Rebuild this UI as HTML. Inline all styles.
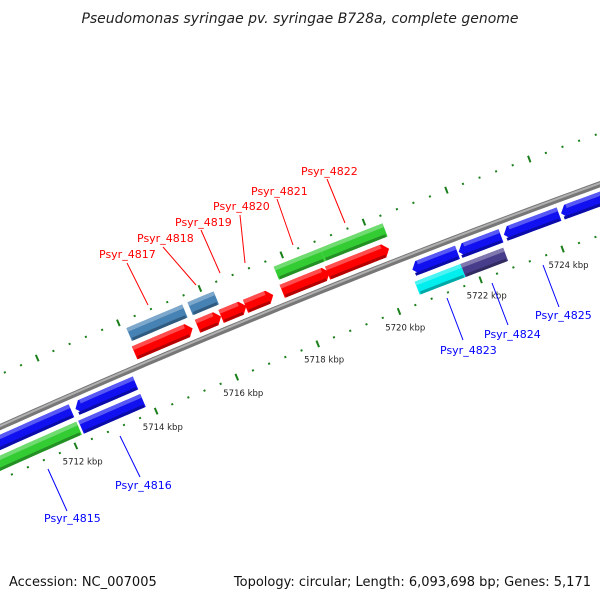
<!DOCTYPE html>
<html><head><meta charset="utf-8"><style>
html,body{margin:0;padding:0;background:#fff;}
svg{display:block;font-family:"DejaVu Sans","Liberation Sans",sans-serif;}
</style></head><body>
<svg id="map" width="600" height="600" viewBox="0 0 600 600" xmlns="http://www.w3.org/2000/svg">
<rect width="600" height="600" fill="#fff"/>
<text x="300" y="23" text-anchor="middle" font-size="14" font-style="italic" fill="#222">Pseudomonas syringae pv. syringae B728a, complete genome</text>
<g id="ticks"></g>
<g id="backbone"></g>
<g id="features"></g>
<g id="labels"></g>
<text x="9" y="586" font-size="13" fill="#111">Accession: NC_007005</text>
<text x="591" y="586" text-anchor="end" font-size="13" fill="#111">Topology: circular; Length: 6,093,698 bp; Genes: 5,171</text>
</svg>
<script>
// data (kbp positions)
const featStart = [5714.12,5715.62,5717.73,5718.86, 5714.07,5715.62,5716.2,5716.8,5717.7,5718.81, 5708.5,5712.33,5720.63,5721.76,5722.86,5724.25, 5708.5,5712.28,5720.58,5721.7];
const featEnd   = [5715.49,5716.26,5718.86,5720.38, 5715.5,5716.2,5716.82,5717.48,5718.86,5720.31, 5712.23,5713.82,5721.73,5722.79,5724.2,5727.0, 5712.23,5713.82,5721.7,5722.74];
const featSlot  = [2,2,2,2, 1,1,1,1,1,1, -1,-1,-1,-1,-1,-1, -2,-2,-2,-2];
const featColor = ["#4682b4","#4682b4","#33cc33","#33cc33","#ff0000","#ff0000","#ff0000","#ff0000","#ff0000","#ff0000","#1010f0","#1010f0","#1010f0","#1010f0","#1010f0","#1010f0","#33cc33","#1010f0","#00eeee","#483d8b"];
const featArrow = [0,0,0,0, 1,1,1,1,1,1, -1,-1,-1,-1,-1,-1, 0,0,0,0];
const tickLabels = [5712,5714,5716,5718,5720,5722,5724];

const NS="http://www.w3.org/2000/svg";
const R=8830, CX=3611, CY=8485, A0=Math.atan2(300-CY,300-CX), PXK=44, REF=5718;
function pt(bp,d){const a=A0+(bp-REF)*PXK/R;const r=R+d;return [CX+r*Math.cos(a),CY+r*Math.sin(a)];}
function arcPts(b1,b2,d){const out=[];const n=Math.max(2,Math.ceil(Math.abs(b2-b1)*4));for(let i=0;i<=n;i++){out.push(pt(b1+(b2-b1)*i/n,d));}return out;}
function ps(a){return a.map(p=>p[0].toFixed(2)+","+p[1].toFixed(2)).join(" ");}
function shade(hex,f){const n=parseInt(hex.slice(1),16);let r=n>>16,g=(n>>8)&255,b=n&255;
 if(f>0){r+= (255-r)*f;g+=(255-g)*f;b+=(255-b)*f;}else{r*=1+f;g*=1+f;b*=1+f;}
 return "rgb("+Math.round(r)+","+Math.round(g)+","+Math.round(b)+")";}

// ticks
const tg=document.getElementById('ticks');
for(let k=0;k<=70;k++){
 const bp=5704+k*0.4;const major=(k%5===0);
 [48,-48].forEach(d=>{
  const h=major?3.5:1;const p1=pt(bp,d-h),p2=pt(bp,d+h);
  const l=document.createElementNS(NS,'line');
  l.setAttribute('x1',p1[0]);l.setAttribute('y1',p1[1]);l.setAttribute('x2',p2[0]);l.setAttribute('y2',p2[1]);
  l.setAttribute('stroke','#1a7f1a');l.setAttribute('stroke-width',2);
  
  
  tg.appendChild(l);
 });
}
tickLabels.forEach(v=>{
 const p=pt(v,-65);
 const t=document.createElementNS(NS,'text');
 t.setAttribute('x',p[0]);t.setAttribute('y',p[1]+3);t.setAttribute('text-anchor','middle');
 t.setAttribute('font-size','8.5');t.setAttribute('fill','#222');
 t.textContent=v+" kbp";
 
 
 tg.appendChild(t);
});

// backbone
const bg=document.getElementById('backbone');
[[6,"#777",0],[2,"#b0b0b0",1]].forEach(s=>{
 const pl=document.createElementNS(NS,'polyline');
 pl.setAttribute('points',ps(arcPts(5700,5732,s[2])));
 pl.setAttribute('fill','none');pl.setAttribute('stroke',s[1]);pl.setAttribute('stroke-width',s[0]);
 
 
 bg.appendChild(pl);
});

// features
const fg=document.getElementById('features');
const slotD={2:[26,40],1:[7,21],"-1":[-21,-7],"-2":[-40,-26]};
featStart.forEach((b1,i)=>{
 const b2=featEnd[i];const [d1,d2]=slotD[featSlot[i]];const mid=(d1+d2)/2;const h=0.13;const c=featColor[i];
 let poly;
 if(featArrow[i]===1){
  const e=Math.max(b1,b2-h);
  poly=arcPts(b1,e,d1).concat([pt(b2,mid)]).concat(arcPts(e,b1,d2));
 }else if(featArrow[i]===-1){
  const s=Math.min(b2,b1+h);
  poly=[pt(b1,mid)].concat(arcPts(s,b2,d1)).concat(arcPts(b2,s,d2));
 }else{
  poly=arcPts(b1,b2,d1).concat(arcPts(b2,b1,d2));
 }
 const g=document.createElementNS(NS,'g');
 
 
 const p=document.createElementNS(NS,'polygon');
 p.setAttribute('points',ps(poly));p.setAttribute('fill',c);
 g.appendChild(p);
 const lo=d2-4;
 let strip;
 if(featArrow[i]===1){const e=Math.max(b1,b2-h);strip=arcPts(b1,e-0.03,lo).concat(arcPts(e-0.03,b1,d2));}
 else if(featArrow[i]===-1){const s=Math.min(b2,b1+h);strip=arcPts(s+0.03,b2,lo).concat(arcPts(b2,s+0.03,d2));}
 else strip=arcPts(b1,b2,lo).concat(arcPts(b2,b1,d2));
 const sp=document.createElementNS(NS,'polygon');sp.setAttribute('points',ps(strip));sp.setAttribute('fill',shade(c,0.3));
 g.appendChild(sp);
 const dk=arcPts(b1+0.03,b2-(featArrow[i]===1?h:0.03),d1+1.5);
 const dl=document.createElementNS(NS,'polyline');dl.setAttribute('points',ps(dk));dl.setAttribute('fill','none');dl.setAttribute('stroke',shade(c,-0.3));dl.setAttribute('stroke-width','3');
 g.appendChild(dl);
 fg.appendChild(g);
});

// labels
const labNames=["Psyr_4817","Psyr_4818","Psyr_4819","Psyr_4820","Psyr_4821","Psyr_4822","Psyr_4823","Psyr_4824","Psyr_4825","Psyr_4815","Psyr_4816"];
const labColor=["red","red","red","red","red","red","blue","blue","blue","blue","blue"];
const labX=[99,137,175,213,251,301,440,484,535,44,115];
const labY=[258,242,226,210,195,175,354,338,319,522,489];
const lineA=[[127,263],[163,247],[201,230],[240,215],[277,199],[327,179],[447,298],[492,283],[543,265],[48,469],[120,436]];
const lineB=[[148,305],[196,285],[220,273],[245,263],[293,245],[345,223],[463,340],[508,325],[559,307],[67,511],[140,477]];
const lg=document.getElementById('labels');
labNames.forEach((n,i)=>{
 const l=document.createElementNS(NS,'line');
 l.setAttribute('x1',lineA[i][0]);l.setAttribute('y1',lineA[i][1]);l.setAttribute('x2',lineB[i][0]);l.setAttribute('y2',lineB[i][1]);
 l.setAttribute('stroke',labColor[i]);l.setAttribute('stroke-width','1');
 
 
 lg.appendChild(l);
 const t=document.createElementNS(NS,'text');
 t.setAttribute('x',labX[i]);t.setAttribute('y',labY[i]);t.setAttribute('font-size','11');t.setAttribute('fill',labColor[i]);
 t.textContent=n;
 
 
 lg.appendChild(t);
});
</script>
</body></html>
